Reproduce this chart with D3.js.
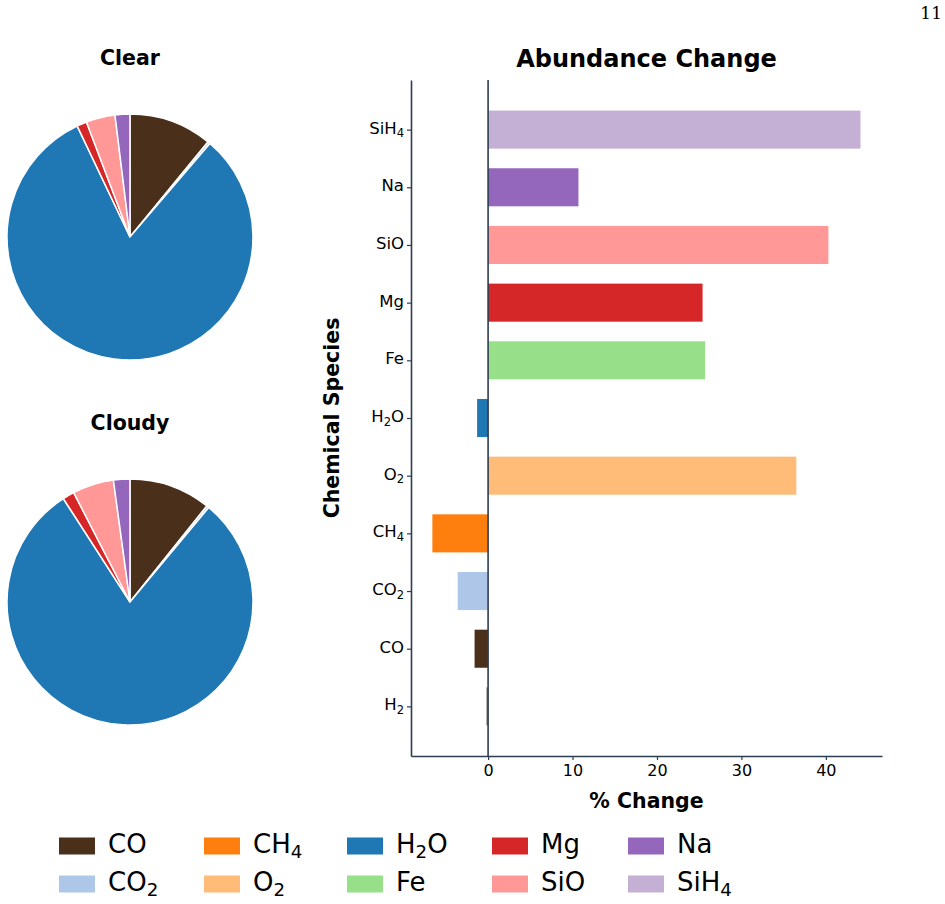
<!DOCTYPE html>
<html>
<head>
<meta charset="utf-8">
<script src="https://cdn.jsdelivr.net/npm/d3@7"></script>
<style>
  body { margin: 0; background: #fff; }
  text { font-family: "DejaVu Sans", sans-serif; fill: #000; }
</style>
</head>
<body>
<svg id="chart" width="945" height="904"></svg>
<script>
// species shown in the pies / legend (legend is column-major)
const species = ["CO", "CO2", "CH4", "O2", "H2O", "Fe", "Mg", "SiO", "Na", "SiH4"];
const colors  = ["#4a2f1a", "#aec7e8", "#ff7f0e", "#ffbb78", "#1f77b4", "#98df8a", "#d62728", "#ff9896", "#9467bd", "#c5b0d5"];

// mixing fractions in %
const clearVals  = [10.94, 0.30, 0.01, 0.01, 81.68, 0.01, 1.31, 3.81, 1.94, 0.01];
const cloudyVals = [10.75, 0.29, 0.01, 0.015, 79.85, 0.013, 1.54, 5.42, 2.14, 0.015];

// bar chart, bottom to top
const barSpecies = ["H2", "CO", "CO2", "CH4", "O2", "H2O", "Fe", "Mg", "SiO", "Na", "SiH4"];
const barChange  = [-0.2, -1.6, -3.6, -6.6, 36.5, -1.3, 25.7, 25.4, 40.3, 10.7, 44.1];
const barColors  = ["#7f7f7f", "#4a2f1a", "#aec7e8", "#ff7f0e", "#ffbb78", "#1f77b4", "#98df8a", "#d62728", "#ff9896", "#9467bd", "#c5b0d5"];
const xTicks = [0, 10, 20, 30, 40];

const svg = d3.select("#chart");
const axisColor = "#2e3d4f";

// write chemical formula with digit subscripts
function formula(sel, label, size) {
  const parts = label.match(/[A-Za-z]+|\d+/g);
  let shifted = false;
  parts.forEach(p => {
    if (/\d/.test(p)) {
      sel.append("tspan").attr("font-size", size * 0.7).attr("dy", size * 0.22).text(p);
      shifted = true;
    } else {
      const t = sel.append("tspan").attr("font-size", size).text(p);
      if (shifted) { t.attr("dy", -size * 0.22); shifted = false; }
    }
  });
}

// page number
svg.append("text").attr("x", 942).attr("y", 19).attr("text-anchor", "end")
  .style("font-family", "'DejaVu Serif', serif").attr("font-size", 17).text("11");

// -- PIES --
const pie = d3.pie().sort(null).value(d => d.v);
const arc = d3.arc().innerRadius(0).outerRadius(123);

function drawPie(vals, title, cx, cy) {
  const data = vals.map((v, i) => ({ v, c: colors[i] }));
  const g = svg.append("g").attr("transform", `translate(${cx},${cy})`);
  g.selectAll("path")
    .data(pie(data))
    .join("path")
      .attr("d", arc)
      .attr("fill", d => d.data.c)
      .attr("stroke", "#fff")
      .attr("stroke-width", d => d.data.v < 0.1 ? 0 : 1.5);
  svg.append("text").attr("x", cx).attr("y", cy - 172)
    .attr("text-anchor", "middle").attr("font-weight", "bold").attr("font-size", 20.5)
    .text(title);
}
drawPie(clearVals, "Clear", 130, 237);
drawPie(cloudyVals, "Cloudy", 130, 602);

// -- BAR CHART --
const pl = 411, pr = 882, pt = 80, pb = 756;
const x = d3.scaleLinear().domain([-9.13, 46.65]).range([pl, pr]);
const y = d3.scaleLinear().domain([-0.86, 10.86]).range([pb, pt]);
const bh = 0.66;

svg.append("g").selectAll("rect")
  .data(barChange)
  .join("rect")
    .attr("x", d => x(Math.min(0, d)))
    .attr("width", d => Math.abs(x(d) - x(0)))
    .attr("y", (d, i) => y(i + bh / 2))
    .attr("height", y(0) - y(bh))
    .attr("fill", (d, i) => barColors[i]);

// zero line
svg.append("line")
  .attr("x1", x(0)).attr("x2", x(0)).attr("y1", pt).attr("y2", pb)
  .attr("stroke", axisColor).attr("stroke-width", 1.6);

// x axis
const xAxis = svg.append("g").attr("transform", `translate(0,${pb})`)
  .call(d3.axisBottom(x).tickValues(xTicks).tickSize(4).tickPadding(5).tickSizeOuter(0));
xAxis.select(".domain").attr("stroke", axisColor).attr("stroke-width", 1.6);
xAxis.selectAll(".tick line").attr("stroke", axisColor).attr("stroke-width", 1.2);
xAxis.selectAll(".tick text").attr("font-size", 16).style("font-family", "DejaVu Sans");

// y axis
const yAxis = svg.append("g").attr("transform", `translate(${pl},0)`)
  .call(d3.axisLeft(y).tickValues(d3.range(barSpecies.length)).tickFormat("").tickSize(4).tickSizeOuter(0));
yAxis.select(".domain").attr("stroke", axisColor).attr("stroke-width", 1.6);
yAxis.selectAll(".tick line").attr("stroke", axisColor).attr("stroke-width", 1.2);
yAxis.selectAll(".tick").each(function(d) {
  const t = d3.select(this).append("text")
    .attr("x", -7).attr("dy", "0.35em").attr("text-anchor", "end");
  formula(t, barSpecies[d], 16.5);
});

svg.append("text").attr("x", (pl + pr) / 2).attr("y", 67)
  .attr("text-anchor", "middle").attr("font-weight", "bold").attr("font-size", 24)
  .text("Abundance Change");
svg.append("text").attr("x", (pl + pr) / 2).attr("y", 808)
  .attr("text-anchor", "middle").attr("font-weight", "bold").attr("font-size", 20.5)
  .text("% Change");
svg.append("text")
  .attr("transform", `translate(339,${(pt + pb) / 2}) rotate(-90)`)
  .attr("text-anchor", "middle").attr("font-weight", "bold").attr("font-size", 20.5)
  .text("Chemical Species");

// -- LEGEND --
const colX = [59, 204, 347, 492, 628];
const rowY = [846, 884];
const leg = svg.append("g").selectAll("g")
  .data(species)
  .join("g")
    .attr("transform", (d, i) => `translate(${colX[Math.floor(i / 2)]},${rowY[i % 2]})`);
leg.append("rect").attr("x", 0).attr("y", -8.5).attr("width", 36).attr("height", 17)
  .attr("fill", (d, i) => colors[i]);
leg.append("text").attr("x", 49).attr("dy", "0.42em")
  .each(function(d) { formula(d3.select(this), d, 26); });
</script>
</body>
</html>
